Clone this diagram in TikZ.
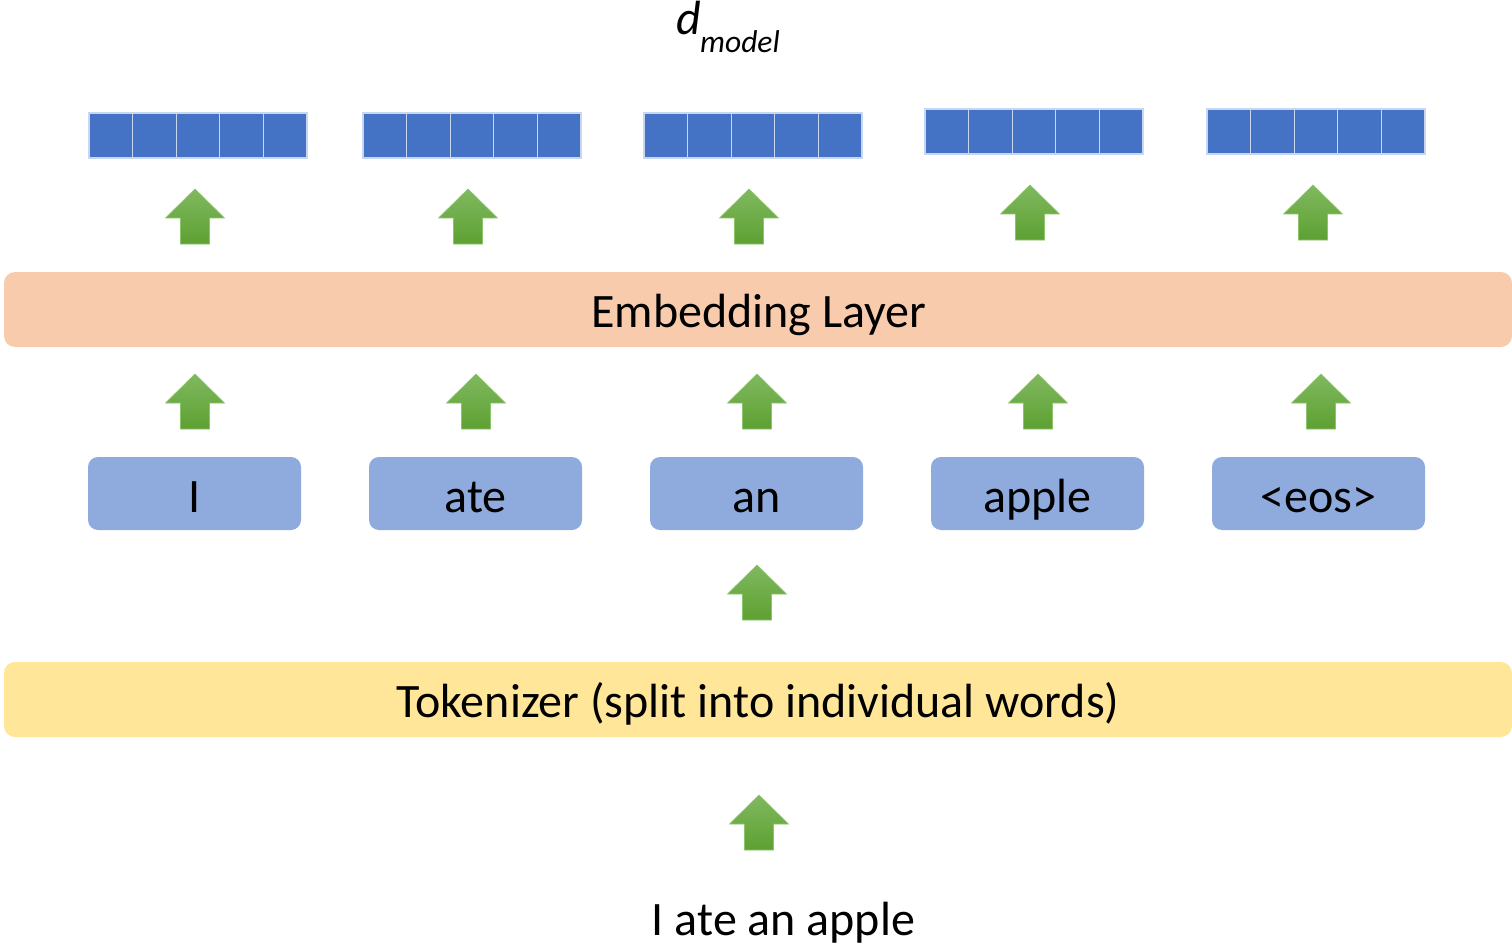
\documentclass[tikz,border=0pt]{standalone}
\usepackage{fontspec}
\setmainfont{Carlito}
\definecolor{vecblue}{HTML}{4472C4}
\definecolor{vecedge}{HTML}{C9D6EF}
\definecolor{tokblue}{HTML}{8FAADC}
\definecolor{embpeach}{HTML}{F7CBAC}
\definecolor{tokyellow}{HTML}{FFE699}
\definecolor{arrtop}{HTML}{80B95F}
\definecolor{arrbot}{HTML}{5DA032}
\definecolor{arredge}{HTML}{8CC46A}
\tikzset{
  bigtext/.style={font=\fontsize{48}{54}\selectfont, text=black},
  cell/.style={draw=vecedge, line width=1.2pt, fill=vecblue, minimum width=43.6pt, minimum height=45pt, inner sep=0pt, outer sep=0pt},
  tokbox/.style={fill=tokblue, rounded corners=10pt, minimum width=213pt, minimum height=73pt,
    inner sep=0pt, text height=44pt, text depth=7pt, bigtext},
  layerbar/.style={rounded corners=11pt},
  greenfill/.style={draw=arredge, line width=0.6pt, top color=arrtop, bottom color=arrbot}
}
% block arrow pointing up: name, x of axis, y of tail (y grows downward)
\newcommand\blockup[3]{%
  \coordinate (#1) at (#2,#3);
  \shade[greenfill] (#2-14.5,#3) -- (#2-14.5,#3-26) -- (#2-29.5,#3-26) -- (#2,#3-55)
    -- (#2+29.5,#3-26) -- (#2+14.5,#3-26) -- (#2+14.5,#3) -- cycle;
}
\begin{document}
\begin{tikzpicture}[x=1pt, y=-1pt]
\useasboundingbox (0,0) rectangle (1512,944);

% model dimension label
\node[anchor=base west, inner sep=0pt, font=\fontsize{48}{54}\selectfont\itshape] (dlab) at (676,35) {d};
\node[anchor=base west, inner sep=0pt, font=\fontsize{31.5}{36}\selectfont\itshape] (dsub) at (700,53) {model};

% embedding vectors: five cells per token
\foreach \k/\cx/\cy in {1/89/135.5, 2/363/135.5, 3/644/135.5, 4/925/131.5, 5/1207/131.5} {
  \foreach \j in {0,...,4} {
    \node[cell, anchor=west] (v\k-\j) at ({\cx+\j*43.6}, \cy) {};
  }
}

% arrows from the embedding layer to the vectors
\foreach \k/\ax/\ay in {1/195/244, 2/468/244, 3/749/244, 4/1030/240, 5/1313/240} {
  \blockup{ea\k}{\ax}{\ay}
}

% embedding layer
\fill[embpeach, layerbar] (4,272) rectangle (1512,347);
\node[bigtext, anchor=base, inner sep=0pt] (emb) at (759,327) {Embedding Layer};

% arrows from tokens to the embedding layer
\foreach \k/\ax in {1/195, 2/476, 3/757, 4/1038, 5/1321} {
  \blockup{ta\k}{\ax}{429}
}

% tokens
\node[tokbox] (t1) at (194.5,493.5) {I};
\node[tokbox] (t2) at (475.5,493.5) {ate};
\node[tokbox] (t3) at (756.5,493.5) {an};
\node[tokbox] (t4) at (1037.5,493.5) {apple};
\node[tokbox] (t5) at (1318.5,493.5) {<eos>};

% tokenizer output arrow
\blockup{ka}{757}{620}

% tokenizer
\fill[tokyellow, layerbar] (4,662) rectangle (1512,737);
\node[bigtext, anchor=base, inner sep=0pt] (tok) at (758,717) {Tokenizer (split into individual words)};

% input arrow
\blockup{ia}{759}{850}

% input sentence
\node[bigtext, anchor=base, inner sep=0pt] (inp) at (783.5,935) {I ate an apple};
\end{tikzpicture}
\end{document}
